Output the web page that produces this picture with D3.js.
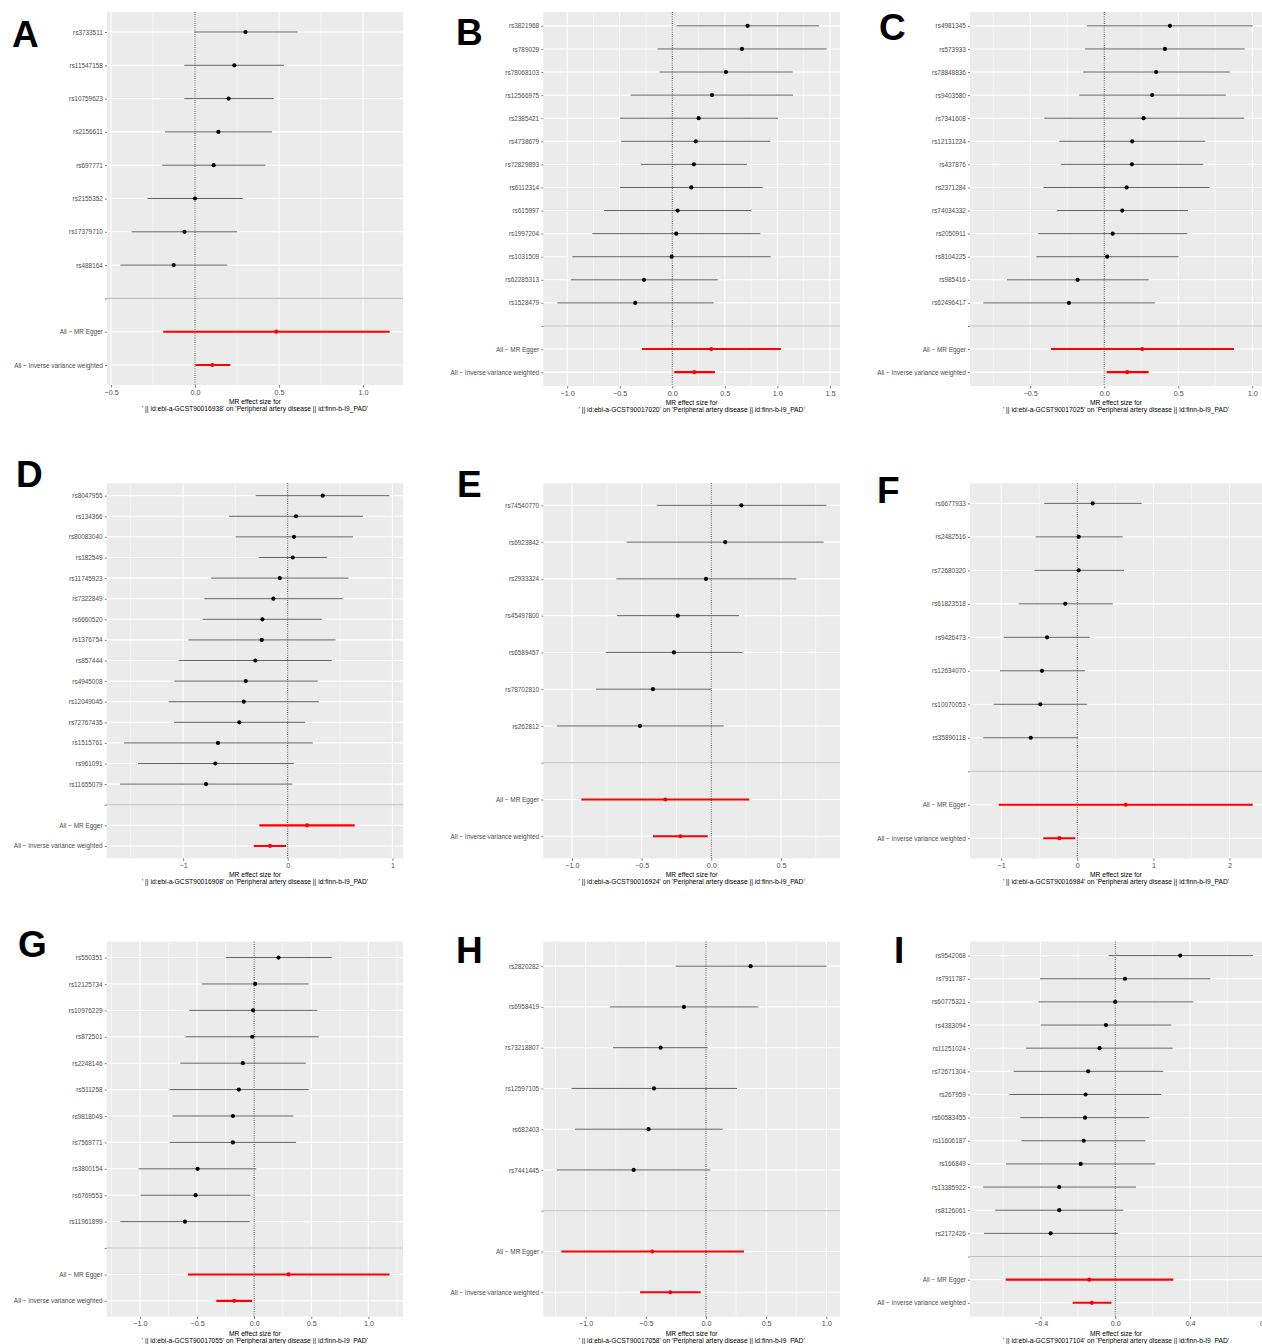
<!DOCTYPE html>
<html><head><meta charset="utf-8">
<script src="https://cdn.jsdelivr.net/npm/d3@7"></script>
<style>
body{margin:0;background:#fff}
svg{display:block}
text{font-family:"Liberation Sans",Arial,Helvetica,sans-serif}
</style>
</head><body>
<svg id="chart" width="1262" height="1344"></svg>
<script>
// ---------------- DATA ----------------
const summaryLabels = ["All − MR Egger", "All − Inverse variance weighted"];

// Panel A
const snpsA = ["rs3733511","rs11547158","rs10759623","rs2156611","rs697771","rs2155352","rs17379710","rs488164"];
const betaA = [0.30, 0.234, 0.20, 0.139, 0.111, 0.0, -0.063, -0.127];
const loA   = [-0.004, -0.064, -0.064, -0.179, -0.195, -0.282, -0.377, -0.444];
const hiA   = [0.61, 0.53, 0.468, 0.458, 0.419, 0.284, 0.25, 0.192];
const eggerA = [0.484, -0.189, 1.159];
const ivwA   = [0.103, 0.002, 0.21];
const ticksA = [-0.5, 0, 0.5, 1.0];

// Panel B
const snpsB = ["rs3821968","rs789029","rs78068103","rs12566975","rs2385421","rs4738679","rs72829893","rs6112314","rs615997","rs1997204","rs1031509","rs62285313","rs1528479"];
const betaB = [0.717, 0.663, 0.511, 0.378, 0.251, 0.223, 0.206, 0.181, 0.051, 0.038, -0.006, -0.269, -0.352];
const loB   = [0.042, -0.139, -0.12, -0.396, -0.498, -0.485, -0.298, -0.498, -0.65, -0.761, -0.951, -0.964, -1.094];
const hiB   = [1.396, 1.469, 1.146, 1.149, 1.006, 0.933, 0.711, 0.86, 0.749, 0.838, 0.936, 0.432, 0.394];
const eggerB = [0.371, -0.288, 1.034];
const ivwB   = [0.209, 0.019, 0.406];
const ticksB = [-1.0, -0.5, 0, 0.5, 1.0, 1.5];

// Panel C
const snpsC = ["rs4981345","rs573933","rs78848836","rs9403580","rs7341608","rs12131224","rs437876","rs2371284","rs74034332","rs2050911","rs8104225","rs985416","rs62496417"];
const betaC = [0.444, 0.41, 0.351, 0.324, 0.266, 0.189, 0.187, 0.151, 0.122, 0.057, 0.02, -0.18, -0.239];
const loC   = [-0.117, -0.13, -0.142, -0.169, -0.405, -0.304, -0.293, -0.41, -0.32, -0.446, -0.459, -0.657, -0.817];
const hiC   = [1.003, 0.949, 0.847, 0.822, 0.946, 0.682, 0.669, 0.712, 0.566, 0.561, 0.502, 0.3, 0.342];
const eggerC = [0.257, -0.36, 0.876];
const ivwC   = [0.155, 0.016, 0.3];
const ticksC = [-0.5, 0, 0.5, 1.0];

// Panel D
const snpsD = ["rs8047955","rs134366","rs80083040","rs182549","rs11745923","rs7322849","rs6660520","rs1376754","rs857444","rs4945008","rs12049045","rs72767435","rs1515761","rs961091","rs11655079"];
const betaD = [0.334, 0.079, 0.06, 0.048, -0.076, -0.137, -0.242, -0.248, -0.309, -0.401, -0.42, -0.462, -0.666, -0.691, -0.78];
const loD   = [-0.306, -0.561, -0.497, -0.277, -0.733, -0.796, -0.812, -0.949, -1.041, -1.083, -1.137, -1.086, -1.563, -1.43, -1.602];
const hiD   = [0.971, 0.719, 0.624, 0.378, 0.579, 0.525, 0.325, 0.458, 0.42, 0.287, 0.299, 0.165, 0.239, 0.057, 0.044];
const eggerD = [0.184, -0.271, 0.64];
const ivwD   = [-0.169, -0.325, -0.016];
const ticksD = [-1, 0, 1];

// Panel E
const snpsE = ["rs74540770","rs6923842","rs2933324","rs45497800","rs6589457","rs78702810","rs262812"];
const betaE = [0.216, 0.1, -0.038, -0.241, -0.268, -0.419, -0.512];
const loE   = [-0.392, -0.608, -0.682, -0.677, -0.758, -0.828, -1.108];
const hiE   = [0.826, 0.807, 0.61, 0.199, 0.223, -0.001, 0.089];
const eggerE = [-0.33, -0.933, 0.273];
const ivwE   = [-0.222, -0.419, -0.026];
const ticksE = [-1.0, -0.5, 0, 0.5];

// Panel F
const snpsF = ["rs6677933","rs2482516","rs72680320","rs61823518","rs9426473","rs12634070","rs10070053","rs35890118"];
const betaF = [0.202, 0.018, 0.018, -0.158, -0.398, -0.464, -0.486, -0.612];
const loF   = [-0.434, -0.547, -0.565, -0.77, -0.967, -1.016, -1.099, -1.235];
const hiF   = [0.846, 0.596, 0.614, 0.465, 0.163, 0.101, 0.131, 0.009];
const eggerF = [0.636, -1.033, 2.305];
const ivwF   = [-0.236, -0.447, -0.026];
const ticksF = [-1, 0, 1, 2];

// Panel G
const snpsG = ["rs550351","rs12125734","rs10976229","rs872501","rs2248146","rs511258","rs9818049","rs7569771","rs3800154","rs6769553","rs11961899"];
const betaG = [0.213, 0.009, -0.009, -0.017, -0.099, -0.134, -0.186, -0.186, -0.495, -0.513, -0.606];
const loG   = [-0.248, -0.455, -0.569, -0.6, -0.647, -0.74, -0.714, -0.738, -1.012, -0.994, -1.172];
const hiG   = [0.68, 0.476, 0.554, 0.566, 0.452, 0.478, 0.344, 0.367, 0.018, -0.032, -0.038];
const eggerG = [0.301, -0.58, 1.185];
const ivwG   = [-0.175, -0.332, -0.017];
const ticksG = [-1.0, -0.5, 0, 0.5, 1.0];

// Panel H
const snpsH = ["rs2820282","rs6958419","rs73218807","rs12597105","rs682403","rs7441445"];
const betaH = [0.371, -0.183, -0.377, -0.432, -0.477, -0.601];
const loH   = [-0.252, -0.798, -0.773, -1.117, -1.089, -1.239];
const hiH   = [1.003, 0.435, 0.014, 0.258, 0.139, 0.036];
const eggerH = [-0.446, -1.202, 0.316];
const ivwH   = [-0.297, -0.548, -0.044];
const ticksH = [-1.0, -0.5, 0, 0.5, 1.0];

// Panel I
const snpsI = ["rs9542068","rs7911787","rs60775321","rs4383094","rs11251024","rs72671304","rs267959","rs60583455","rs11606187","rs166849","rs13385922","rs8126061","rs2172426"];
const betaI = [0.348, 0.052, 0.0, -0.05, -0.084, -0.145, -0.159, -0.162, -0.169, -0.185, -0.3, -0.3, -0.346];
const loI   = [-0.036, -0.403, -0.412, -0.398, -0.478, -0.544, -0.566, -0.509, -0.502, -0.585, -0.707, -0.643, -0.703];
const hiI   = [0.738, 0.509, 0.418, 0.3, 0.307, 0.257, 0.246, 0.182, 0.161, 0.214, 0.111, 0.043, 0.014];
const eggerI = [-0.139, -0.587, 0.311];
const ivwI   = [-0.125, -0.228, -0.02];
const ticksI = [-0.4, 0, 0.4, 0.8];

const exposureIds = ["ebi-a-GCST90016938","ebi-a-GCST90017020","ebi-a-GCST90017025",
                     "ebi-a-GCST90016908","ebi-a-GCST90016924","ebi-a-GCST90016984",
                     "ebi-a-GCST90017055","ebi-a-GCST90017058","ebi-a-GCST90017104"];
const outcomeLabel = "Peripheral artery disease || id:finn-b-I9_PAD";
const panelLetters = ["A","B","C","D","E","F","G","H","I"];

// ---------------- LAYOUT ----------------
const panels = [
 {snps:snpsA, beta:betaA, lo:loA, hi:hiA, egger:eggerA, ivw:ivwA, ticks:ticksA, fmt:".1f", dom:[-0.524,1.238], x0:107,   x1:403,  y0:12,    y1:385,    lx:12,  ly:47},
 {snps:snpsB, beta:betaB, lo:loB, hi:hiB, egger:eggerB, ivw:ivwB, ticks:ticksB, fmt:".1f", dom:[-1.227,1.596], x0:543.3, x1:840,  y0:12,    y1:386,    lx:456, ly:45},
 {snps:snpsC, beta:betaC, lo:loC, hi:hiC, egger:eggerC, ivw:ivwC, ticks:ticksC, fmt:".1f", dom:[-0.907,1.066], x0:970,   x1:1262, y0:12,    y1:386,    lx:879, ly:40},
 {snps:snpsD, beta:betaD, lo:loD, hi:hiD, egger:eggerD, ivw:ivwD, ticks:ticksD, fmt:"d",   dom:[-1.729,1.104], x0:106.7, x1:403.3,y0:483.3, y1:858.3,  lx:16,  ly:487},
 {snps:snpsE, beta:betaE, lo:loE, hi:hiE, egger:eggerE, ivw:ivwE, ticks:ticksE, fmt:".1f", dom:[-1.206,0.924], x0:543.3, x1:840,  y0:483.3, y1:858.3,  lx:457, ly:497},
 {snps:snpsF, beta:betaF, lo:loF, hi:hiF, egger:eggerF, ivw:ivwF, ticks:ticksF, fmt:"d",   dom:[-1.41,2.427],  x0:970,   x1:1262, y0:483.3, y1:858.3,  lx:877, ly:503},
 {snps:snpsG, beta:betaG, lo:loG, hi:hiG, egger:eggerG, ivw:ivwG, ticks:ticksG, fmt:".1f", dom:[-1.291,1.303], x0:106.7, x1:403,  y0:941.7, y1:1316.7, lx:18,  ly:957},
 {snps:snpsH, beta:betaH, lo:loH, hi:hiH, egger:eggerH, ivw:ivwH, ticks:ticksH, fmt:".1f", dom:[-1.352,1.114], x0:543.3, x1:840,  y0:941.7, y1:1316.7, lx:456, ly:963},
 {snps:snpsI, beta:betaI, lo:loI, hi:hiI, egger:eggerI, ivw:ivwI, ticks:ticksI, fmt:".1f", dom:[-0.778,0.786], x0:970,   x1:1262, y0:941.7, y1:1316.7, lx:894, ly:963}
];

const svg = d3.select("#chart");

panels.forEach((p, idx) => {
  const g = svg.append("g");
  const x = d3.scaleLinear().domain(p.dom).range([p.x0, p.x1]);
  const cats = p.snps.concat([""], summaryLabels);
  const y = d3.scalePoint().domain(cats).range([p.y0, p.y1]).padding(0.6);

  const rows = p.snps.map((s, i) => ({cat: s, b: p.beta[i], lo: p.lo[i], hi: p.hi[i], sum: false}));
  rows.push({cat: summaryLabels[0], b: p.egger[0], lo: p.egger[1], hi: p.egger[2], sum: true});
  rows.push({cat: summaryLabels[1], b: p.ivw[0], lo: p.ivw[1], hi: p.ivw[2], sum: true});

  g.append("rect").attr("x", p.x0).attr("y", p.y0)
    .attr("width", p.x1 - p.x0).attr("height", p.y1 - p.y0).attr("fill", "#EBEBEB");

  const step = p.ticks[1] - p.ticks[0];
  const minors = [];
  for (let i = -1; i < p.ticks.length; i++) {
    const m = p.ticks[0] + (i + 0.5) * step;
    if (m > p.dom[0] && m < p.dom[1]) minors.push(m);
  }
  g.selectAll(".minor").data(minors).join("line")
    .attr("x1", d => x(d)).attr("x2", d => x(d))
    .attr("y1", p.y0).attr("y2", p.y1)
    .attr("stroke", "#fff").attr("stroke-width", 0.55);

  g.selectAll(".majx").data(p.ticks).join("line")
    .attr("x1", d => x(d)).attr("x2", d => x(d))
    .attr("y1", p.y0).attr("y2", p.y1)
    .attr("stroke", "#fff").attr("stroke-width", 1.1);

  g.selectAll(".majy").data(cats).join("line")
    .attr("x1", p.x0).attr("x2", p.x1)
    .attr("y1", d => y(d)).attr("y2", d => y(d))
    .attr("stroke", "#fff").attr("stroke-width", 1.1);

  g.append("line").attr("x1", p.x0).attr("x2", p.x1)
    .attr("y1", y("")).attr("y2", y(""))
    .attr("stroke", "#BEBEBE").attr("stroke-width", 1.1);

  g.append("line").attr("x1", x(0)).attr("x2", x(0))
    .attr("y1", p.y0).attr("y2", p.y1)
    .attr("stroke", "#222").attr("stroke-width", 0.9)
    .attr("stroke-dasharray", "0.9,1.3");

  g.selectAll(".eb").data(rows).join("line")
    .attr("x1", d => x(d.lo)).attr("x2", d => x(d.hi))
    .attr("y1", d => y(d.cat)).attr("y2", d => y(d.cat))
    .attr("stroke", d => d.sum ? "#FF0000" : "#505050")
    .attr("stroke-width", d => d.sum ? 2.1 : 0.9);

  g.selectAll(".pt").data(rows).join("circle")
    .attr("cx", d => x(d.b)).attr("cy", d => y(d.cat))
    .attr("r", 2.1)
    .attr("fill", d => d.sum ? "#FF0000" : "#000");

  const xa = g.append("g").attr("transform", `translate(0,${p.y1})`)
    .call(d3.axisBottom(x).tickValues(p.ticks).tickFormat(d3.format(p.fmt)).tickSize(2.5).tickSizeOuter(0).tickPadding(2.2));
  xa.select(".domain").remove();
  xa.selectAll("line").attr("stroke", "#333").attr("stroke-width", 0.6);
  xa.selectAll("text").attr("fill", "#4D4D4D").style("font-size", "7.2px")
    .style("font-family", "'Liberation Sans', Arial, sans-serif");

  const ya = g.append("g").attr("transform", `translate(${p.x0},0)`)
    .call(d3.axisLeft(y).tickSize(2).tickSizeOuter(0).tickPadding(2.2));
  ya.select(".domain").remove();
  ya.selectAll("line").attr("stroke", "#333").attr("stroke-width", 0.6);
  ya.selectAll("text").attr("fill", "#4D4D4D").style("font-size", "6.4px")
    .style("font-family", "'Liberation Sans', Arial, sans-serif");

  const cx = (p.x0 + p.x1) / 2;
  g.append("text").attr("x", cx).attr("y", p.y1 + 19)
    .attr("text-anchor", "middle").attr("fill", "#000").style("font-size", "6.7px")
    .text("MR effect size for");
  g.append("text").attr("x", cx).attr("y", p.y1 + 26)
    .attr("text-anchor", "middle").attr("fill", "#000").style("font-size", "6.7px")
    .text(`' || id:${exposureIds[idx]}' on '${outcomeLabel}'`);

  svg.append("text").attr("x", p.lx).attr("y", p.ly)
    .attr("fill", "#000").style("font-size", "37px").style("font-weight", "bold")
    .text(panelLetters[idx]);
});
</script>
</body></html>
